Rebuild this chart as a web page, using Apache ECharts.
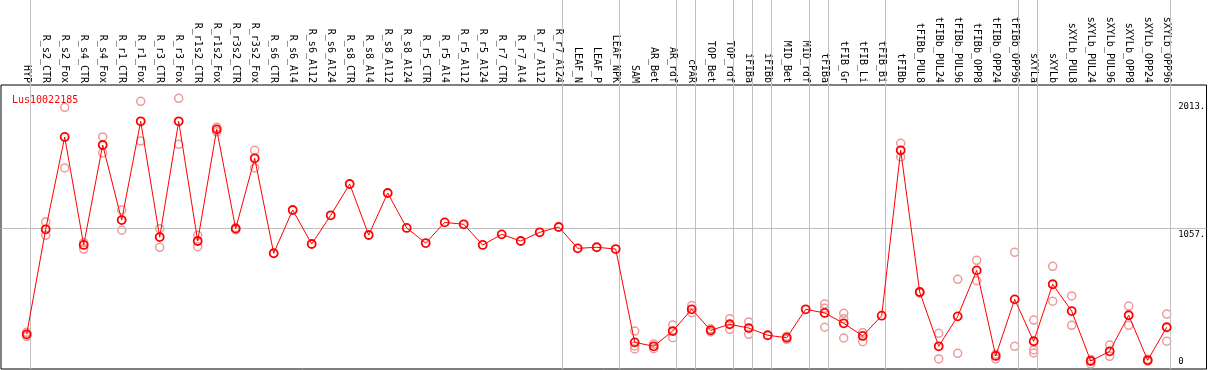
<!DOCTYPE html>
<html>
<head>
<meta charset="utf-8">
<script src="https://cdn.jsdelivr.net/npm/echarts@6/dist/echarts.min.js"></script>
<style>
  html, body { margin: 0; padding: 0; background: #fff; }
  #chart { width: 1209px; height: 370px; }
</style>
</head>
<body>
<div id="chart"></div>
<script>
const categories = ['HYP','R_s2_CTR','R_s2_Fox','R_s4_CTR','R_s4_Fox','R_r1_CTR','R_r1_Fox','R_r3_CTR','R_r3_Fox',
  'R_r1s2_CTR','R_r1s2_Fox','R_r3s2_CTR','R_r3s2_Fox','R_s6_CTR','R_s6_Al4','R_s6_Al12','R_s6_Al24',
  'R_s8_CTR','R_s8_Al4','R_s8_Al12','R_s8_Al24','R_r5_CTR','R_r5_Al4','R_r5_Al12','R_r5_Al24',
  'R_r7_CTR','R_r7_Al4','R_r7_Al12','R_r7_Al24','LEAF_N','LEAF_P','LEAF_NPK','SAM','AR_Bet','AR_rdf',
  'cPAR','TOP_Bet','TOP_rdf','iFIBa','iFIBb','MID_Bet','MID_rdf','tFIBa','tFIB_Gr','tFIB_Li','tFIB_Bi',
  'tFIBb','tFIBb_PUL8','tFIBb_PUL24','tFIBb_PUL96','tFIBb_OPP8','tFIBb_OPP24','tFIBb_OPP96',
  'sXYLa','sXYLb','sXYLb_PUL8','sXYLb_PUL24','sXYLb_PUL96','sXYLb_OPP8','sXYLb_OPP24','sXYLb_OPP96'];

const meanValues = [277, 1049, 1728, 934, 1669, 1117, 1843, 992, 1843, 963, 1784, 1054, 1571,
  873, 1191, 941, 1152, 1382, 1007, 1316, 1059, 948, 1100, 1086, 934, 1012, 963, 1027, 1066, 909, 917, 904,
  218, 189, 301, 461, 306, 351, 323, 270, 252, 461, 434, 358, 265, 414, 1630, 588, 189, 409, 747, 118, 534,
  226, 645, 448, 81, 152, 417, 86, 329];

const rep1 = [292, 1103, 1946, 951, 1728, 1191, 1990, 1054, 2012, 1005, 1800, 1062, 1630,
  null, null, null, null, null, null, null, null, null, null, null, null, null, null, null, null, null, null, null,
  301, 206, 346, 488, 318, 392, 368, null, 262, null, 500, 431, 289, null, 1681, 590, 284, 681, 821, 130, 880,
  382, 777, 559, 92, 198, 485, 93, 426];

const rep2 = [262, 1005, 1500, 904, 1610, 1042, 1698, 917, 1674, 921, 1766, 1045, 1500,
  null, null, null, null, null, null, null, null, null, null, null, null, null, null, null, null, null, null, null,
  191, 171, 252, 436, 294, 314, 277, null, 240, null, 329, 250, 223, null, 1581, 580, 96, 137, 671, 96, 189,
  162, 520, 343, 59, 115, 343, 81, 226];

const rep3 = [null, null, null, null, null, null, null, null, null, null, null, null, null,
  null, null, null, null, null, null, null, null, null, null, null, null, null, null, null, null, null, null, null,
  169, null, null, null, null, null, null, null, null, null, 468, 392, null, null, null, null, null, null, null, null, null,
  140, null, null, null, null, null, null, null];

// category index after which a group separator is drawn
const groupBreaks = [-1, 0, 28, 31, 34, 35, 37, 38, 39, 41, 42, 45, 52, 53, 60];

const yTickValues = [2013, 1057, 0];
const yTickLabels = ['2013.', '1057.', '0'];
const geneName = 'Lus10022185';

const MONO = 'DejaVu Sans Mono';
const Y_MIN = 22, Y_MAX = 2110;
// label anchor values (layout only) for the three right-hand labels
const yLabelAnchors = [1948, 1009, 73.5];

const chart = echarts.init(document.getElementById('chart'), null, { renderer: 'canvas' });

const repSeries = [rep1, rep2, rep3].map((r, k) => ({
  type: 'scatter', xAxisIndex: 0, yAxisIndex: 0, name: 'rep' + (k + 1),
  data: r, symbol: 'circle', symbolSize: 8, z: 3,
  itemStyle: { color: 'rgba(0,0,0,0)', borderColor: '#ee9a9a', borderWidth: 1.5, opacity: 1 },
  silent: true
}));

const option = {
  animation: false,
  backgroundColor: '#fff',
  title: {
    text: geneName, left: 7, top: 90,
    textStyle: { color: '#ff0000', fontSize: 10, fontWeight: 'normal', fontFamily: MONO }
  },
  grid: [
    { left: 17.2, top: 85, width: 1159, height: 284 },
    { left: 1, top: 85, width: 1205.5, height: 284, show: true, borderColor: '#000', borderWidth: 1, backgroundColor: 'transparent' },
    { left: 17.2, top: 0, width: 1159, height: 369 }
  ],
  xAxis: [
    {
      type: 'category', gridIndex: 0, data: categories, position: 'top', boundaryGap: true,
      axisLine: { show: false }, axisTick: { show: false }, splitLine: { show: false },
      axisLabel: { rotate: 90, interval: 0, margin: 2, fontFamily: MONO, fontSize: 10, color: '#000' }
    },
    { type: 'value', gridIndex: 1, min: 0, max: 1, show: false },
    { type: 'value', gridIndex: 2, min: -0.5, max: categories.length - 0.5, show: false }
  ],
  yAxis: [
    {
      type: 'value', gridIndex: 0, min: Y_MIN, max: Y_MAX, position: 'right',
      axisLine: { show: false }, axisTick: { show: false }, splitLine: { show: false },
      axisLabel: {
        customValues: yLabelAnchors, margin: 2, fontFamily: MONO, fontSize: 9, color: '#000',
        formatter: function (v) {
          let best = 0;
          for (let i = 0; i < yLabelAnchors.length; i++) {
            if (Math.abs(yLabelAnchors[i] - v) < Math.abs(yLabelAnchors[best] - v)) best = i;
          }
          return yTickLabels[best];
        }
      }
    },
    { type: 'value', gridIndex: 1, min: Y_MIN, max: Y_MAX, show: false },
    { type: 'value', gridIndex: 2, min: 0, max: 1, show: false }
  ],
  series: [
    {
      type: 'line', xAxisIndex: 1, yAxisIndex: 1, data: [], silent: true, z: 1,
      markLine: {
        silent: true, symbol: 'none', animation: false,
        label: { show: false },
        lineStyle: { color: '#c0c0c0', width: 1, type: 'solid' },
        data: [{ yAxis: yTickValues[1] }]
      }
    },
    {
      type: 'line', xAxisIndex: 2, yAxisIndex: 2, data: [], silent: true, z: 1,
      markLine: {
        silent: true, symbol: 'none', animation: false,
        label: { show: false },
        lineStyle: { color: '#c0c0c0', width: 1, type: 'solid' },
        data: groupBreaks.map(b => ({ xAxis: b + 0.21 }))
      }
    },
    ...repSeries,
    {
      type: 'line', xAxisIndex: 0, yAxisIndex: 0, name: geneName, data: meanValues, z: 5,
      symbol: 'circle', symbolSize: 8, showAllSymbol: true,
      lineStyle: { color: '#ff0000', width: 1 },
      itemStyle: { color: 'rgba(0,0,0,0)', borderColor: '#ff0000', borderWidth: 1.8 },
      silent: true
    }
  ]
};

chart.setOption(option);
</script>
</body>
</html>
